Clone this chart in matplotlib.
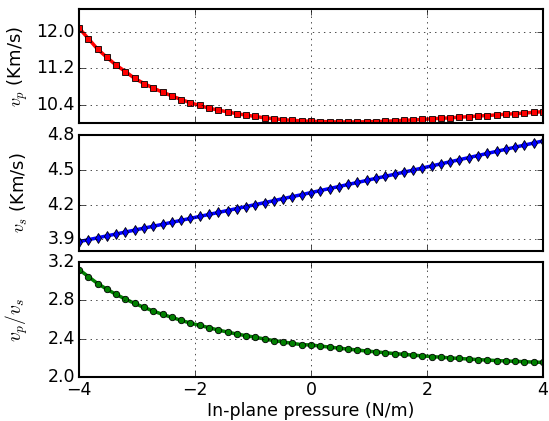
import numpy as np
import matplotlib
matplotlib.use("Agg")
from matplotlib import pyplot as plt

plt.style.use("classic")
plt.rcParams["mathtext.fontset"] = "cm"
plt.rcParams["font.size"] = 12

# in-plane pressure (N/m), 51 samples from -4 to 4
pressure = np.linspace(-4, 4, 51)

vp = [12.08, 11.85, 11.62, 11.44, 11.27, 11.13, 10.98, 10.87, 10.77, 10.68,
      10.60, 10.52, 10.45, 10.39, 10.33, 10.29, 10.25, 10.21, 10.18, 10.15,
      10.12, 10.10, 10.08, 10.065, 10.055, 10.045, 10.04, 10.035, 10.03, 10.03,
      10.03, 10.035, 10.04, 10.045, 10.055, 10.065, 10.075, 10.085, 10.10, 10.11,
      10.12, 10.135, 10.145, 10.16, 10.17, 10.185, 10.20, 10.21, 10.225, 10.24,
      10.255]

vs = [3.880, 3.897, 3.913, 3.930, 3.946, 3.963, 3.980, 3.997, 4.013, 4.030,
      4.047, 4.064, 4.081, 4.098, 4.115, 4.132, 4.149, 4.166, 4.183, 4.200,
      4.217, 4.234, 4.252, 4.269, 4.286, 4.304, 4.321, 4.339, 4.356, 4.374,
      4.391, 4.409, 4.427, 4.444, 4.462, 4.480, 4.498, 4.516, 4.534, 4.552,
      4.570, 4.588, 4.606, 4.624, 4.642, 4.660, 4.678, 4.696, 4.714, 4.732,
      4.750]

ratio = [3.124, 3.050, 2.977, 2.918, 2.863, 2.814, 2.769, 2.727, 2.689, 2.654,
         2.623, 2.591, 2.563, 2.539, 2.515, 2.490, 2.469, 2.448, 2.431, 2.414,
         2.396, 2.379, 2.365, 2.350, 2.337, 2.333, 2.322, 2.311, 2.300, 2.290,
         2.280, 2.270, 2.261, 2.252, 2.243, 2.235, 2.227, 2.219, 2.212, 2.205,
         2.198, 2.192, 2.186, 2.180, 2.175, 2.170, 2.166, 2.162, 2.158, 2.154,
         2.151]

fig = plt.figure(figsize=(5.49, 4.21), dpi=100, facecolor="white")
left, width = 0.144, 0.845
ax1 = fig.add_axes([left, 0.707, width, 0.272])
ax2 = fig.add_axes([left, 0.404, width, 0.275])
ax3 = fig.add_axes([left, 0.105, width, 0.272])

ax1.plot(pressure, vp, "r-", lw=2.5, marker="s", ms=4.3, mec="k", mew=0.6)
ax2.plot(pressure, vs, "b-", lw=2.5, marker="d", ms=5, mec="k", mew=0.6)
ax3.plot(pressure, ratio, "g-", lw=2.5, marker="o", ms=4.6, mec="k", mew=0.6)

ax1.set_ylim(10.0, 12.5)
ax1.set_yticks([10.4, 11.2, 12.0])
ax2.set_ylim(3.8, 4.8)
ax2.set_yticks([3.9, 4.2, 4.5, 4.8])
ax3.set_ylim(2.0, 3.2)
ax3.set_yticks([2.0, 2.4, 2.8, 3.2])

ax1.set_ylabel(r"$v_p$ (Km/s)", fontsize=13)
ax2.set_ylabel(r"$v_s$ (Km/s)", fontsize=13)
ax3.set_ylabel(r"$v_p/v_s$", fontsize=14)
ax3.set_xlabel("In-plane pressure (N/m)", fontsize=12.5, labelpad=2)

for ax in (ax1, ax2, ax3):
    ax.set_xlim(-4, 4)
    ax.set_xticks([-4, -2, 0, 2, 4])
    ax.grid(True, color="k", linestyle=":")
    for s in ax.spines.values():
        s.set_linewidth(1.5)
    ax.tick_params(labelsize=12.5, pad=3)
    ax.yaxis.set_label_coords(-0.105, 0.5)
for ax in (ax1, ax2):
    ax.set_xticklabels([])

fig.savefig("out.png", dpi=100, facecolor="white")
